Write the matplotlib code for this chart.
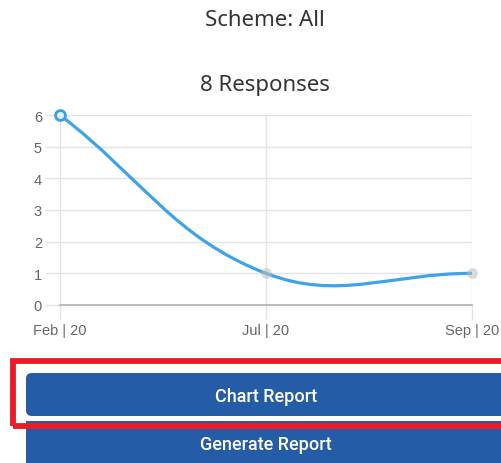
import matplotlib
matplotlib.use("Agg")
import matplotlib.pyplot as plt
import numpy as np
from matplotlib.path import Path
from matplotlib.patches import PathPatch, FancyBboxPatch, Rectangle

# ---- data ----
categories = ["Feb | 20", "Jul | 20", "Sep | 20"]
values = [6, 1, 1]
title_text = "Scheme: All"
subtitle_text = "8 Responses"
button_labels = ["Chart Report", "Generate Report"]
y_ticks = [0, 1, 2, 3, 4, 5, 6]

W, H = 502, 464
fig = plt.figure(figsize=(W / 100, H / 100), dpi=100)
fig.patch.set_facecolor("white")

def fx(px):
    return px / W

def fy(py):
    return 1 - py / H

# plot area in pixels
L, R, T, B = 60, 472, 116, 306
ax = fig.add_axes([fx(L), fy(B), fx(R) - fx(L), fy(T) - fy(B)])
ax.set_xlim(0, len(categories) - 1)
ax.set_ylim(0, 6)
ax.set_facecolor("white")

grid_c = "#e3e3e3"
for s in ax.spines.values():
    s.set_visible(False)
ax.set_xticks(range(len(categories)))
ax.set_xticklabels(categories)
ax.set_yticks(y_ticks)
ax.tick_params(axis="both", colors=grid_c, labelcolor="#666666", labelsize=10.5,
               length=11, width=1, pad=2)
for lab in ax.get_xticklabels() + ax.get_yticklabels():
    lab.set_fontfamily(["Liberation Sans", "DejaVu Sans"])
ax.grid(True, color=grid_c, linewidth=1)
ax.set_axisbelow(True)
ax.axhline(0, color="#b0b0b0", linewidth=1.2, zorder=1, clip_on=False)

# ---- Chart.js style bezier (tension 0.4), computed in display space ----
fig.canvas.draw()
pts = ax.transData.transform(np.column_stack([np.arange(len(values)), values]))
t = 0.4
ctrl_prev, ctrl_next = [], []
n = len(pts)
for i in range(n):
    prev = pts[max(i - 1, 0)]
    cur = pts[i]
    nxt = pts[min(i + 1, n - 1)]
    d01 = np.hypot(*(cur - prev))
    d12 = np.hypot(*(nxt - cur))
    tot = d01 + d12
    s01 = d01 / tot if tot else 0
    s12 = d12 / tot if tot else 0
    fa, fb = t * s01, t * s12
    ctrl_prev.append(cur - fa * (nxt - prev))
    ctrl_next.append(cur + fb * (nxt - prev))
verts = [pts[0]]
codes = [Path.MOVETO]
for i in range(n - 1):
    verts += [ctrl_next[i], ctrl_prev[i + 1], pts[i + 1]]
    codes += [Path.CURVE4] * 3
verts = ax.transData.inverted().transform(np.array(verts))
ax.add_patch(PathPatch(Path(verts, codes), facecolor="none", edgecolor="#3fa3ea",
                       linewidth=2.3, zorder=3, clip_on=False))

# points
ax.scatter([0], [values[0]], s=50, facecolor="#e3f0fb", edgecolor="#3a9fe6",
           linewidth=2, zorder=4, clip_on=False)
ax.scatter(range(1, n), values[1:], s=60, color="#bdbdbd", alpha=0.55,
           zorder=4, clip_on=False, linewidths=0)

# ---- titles ----
fig.text(fx(265), fy(21), title_text, ha="center", va="center", fontsize=16,
         color="#333333", family=["Noto Sans", "DejaVu Sans"])
fig.text(fx(265), fy(86), subtitle_text, ha="center", va="center", fontsize=16,
         color="#333333", family=["Noto Sans", "DejaVu Sans"])

# ---- buttons ----
btn_c = "#255ca7"
fig.patches.append(FancyBboxPatch((fx(26), fy(417)), fx(560) - fx(26), fy(374) - fy(417),
                                  boxstyle="round,pad=0,rounding_size=0.012",
                                  transform=fig.transFigure, facecolor=btn_c,
                                  edgecolor="none", zorder=2))
fig.patches.append(Rectangle((fx(26), fy(470)), fx(560) - fx(26), fy(422) - fy(470),
                             transform=fig.transFigure, facecolor=btn_c,
                             edgecolor="none", zorder=2))
fig.patches.append(Rectangle((fx(13), fy(427)), fx(560) - fx(13), fy(361.5) - fy(427),
                             transform=fig.transFigure, facecolor="none",
                             edgecolor="#ed1c24", linewidth=4.2, zorder=3))
fig.text(fx(266), fy(397), button_labels[0], ha="center", va="center", fontsize=13,
         color="white", fontweight="medium", family=["Roboto", "DejaVu Sans"], zorder=4)
fig.text(fx(266), fy(445), button_labels[1], ha="center", va="center", fontsize=13,
         color="white", fontweight="medium", family=["Roboto", "DejaVu Sans"], zorder=4)

fig.savefig("out.png", dpi=100, facecolor="white")
